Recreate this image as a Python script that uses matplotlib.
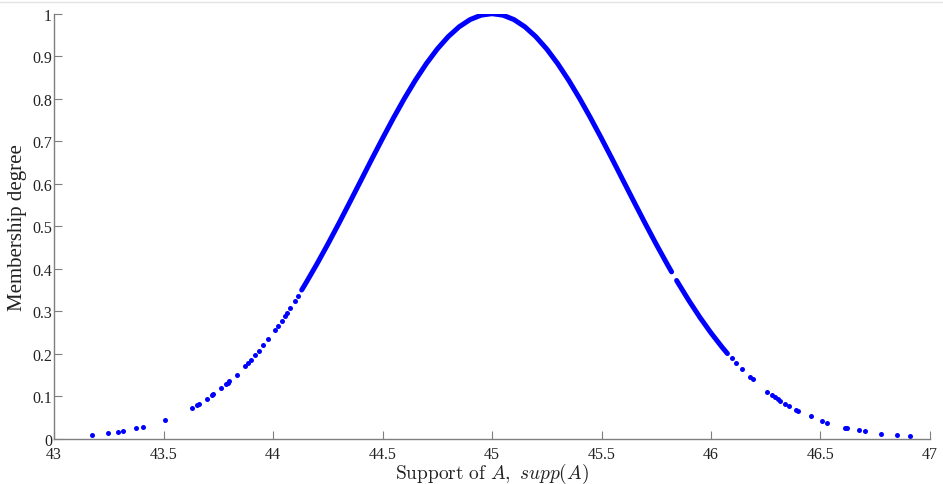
import numpy as np
import matplotlib
matplotlib.use("Agg")
import matplotlib.pyplot as plt
from matplotlib.lines import Line2D

plt.rcParams['mathtext.fontset'] = 'cm'

# Continuous (dense) part of the sampled membership curve, NaN marks a visible gap
dense_x = [44.131, 44.15, 44.20, 44.25, 44.30, 44.35, 44.40, 44.45, 44.50, 44.55,
           44.60, 44.65, 44.70, 44.75, 44.80, 44.85, 44.90, 44.95, 45.00, 45.05,
           45.10, 45.15, 45.20, 45.25, 45.30, 45.35, 45.40, 45.45, 45.50, 45.55,
           45.60, 45.65, 45.70, 45.75, 45.80, 45.82, np.nan,
           45.843, 45.85, 45.90, 45.95, 46.00, 46.05, 46.075]
dense_y = [0.3503, 0.3666, 0.4111, 0.4578, 0.5063, 0.5561, 0.6065, 0.6570, 0.7066, 0.7548,
           0.8007, 0.8435, 0.8825, 0.9169, 0.9460, 0.9692, 0.9862, 0.9965, 1.0000, 0.9965,
           0.9862, 0.9692, 0.9460, 0.9169, 0.8825, 0.8435, 0.8007, 0.7548, 0.7066, 0.6570,
           0.6065, 0.5561, 0.5063, 0.4578, 0.4111, 0.3930, np.nan,
           0.3727, 0.3666, 0.3247, 0.2855, 0.2494, 0.2163, 0.2009]

# Isolated sample points in the tails
sparse_x = [43.175, 43.247, 43.292, 43.315, 43.376, 43.406, 43.507, 43.629, 43.652, 43.662,
            43.697, 43.720, 43.727, 43.763, 43.784, 43.793, 43.800, 43.834, 43.872, 43.887,
            43.898, 43.918, 43.936, 43.956, 43.979, 44.009, 44.024, 44.040, 44.055, 44.063,
            44.078, 44.100, 44.115,
            46.094, 46.114, 46.140, 46.178, 46.190, 46.257, 46.280, 46.292, 46.304, 46.316,
            46.339, 46.356, 46.390, 46.397, 46.455, 46.507, 46.530, 46.613, 46.622, 46.676,
            46.702, 46.775, 46.851, 46.909]
sparse_y = [0.0098, 0.0140, 0.0174, 0.0194, 0.0257, 0.0293, 0.0452, 0.0735, 0.0802, 0.0832,
            0.0946, 0.1028, 0.1054, 0.1194, 0.1282, 0.1322, 0.1353, 0.1513, 0.1708, 0.1790,
            0.1851, 0.1967, 0.2076, 0.2201, 0.2351, 0.2556, 0.2663, 0.2780, 0.2893, 0.2954,
            0.3071, 0.3247, 0.3370,
            0.1897, 0.1784, 0.1645, 0.1456, 0.1399, 0.1114, 0.1028, 0.0985, 0.0943, 0.0902,
            0.0829, 0.0778, 0.0683, 0.0665, 0.0529, 0.0427, 0.0387, 0.0270, 0.0259, 0.0202,
            0.0179, 0.0126, 0.0086, 0.0063]

x_ticks = [43, 43.5, 44, 44.5, 45, 45.5, 46, 46.5, 47]
x_tick_labels = ["43", "43.5", "44", "44.5", "45", "45.5", "46", "46.5", "47"]
y_ticks = [0, 0.1, 0.2, 0.3, 0.4, 0.5, 0.6, 0.7, 0.8, 0.9, 1]
y_tick_labels = ["0", "0.1", "0.2", "0.3", "0.4", "0.5", "0.6", "0.7", "0.8", "0.9", "1"]

fig = plt.figure(figsize=(9.43, 4.85), dpi=100)
ax = fig.add_axes([0.0573, 0.0928, 0.9289, 0.8769])

blue = (0, 0, 1)
ax.plot(dense_x, dense_y, color=blue, lw=3.6, solid_capstyle='round')
ax.plot(sparse_x, sparse_y, 'o', color=blue, ms=3.6, mew=0)

ax.set_xlim(43, 47)
ax.set_ylim(0, 1)
ax.set_xticks(x_ticks)
ax.set_xticklabels(x_tick_labels)
ax.set_yticks(y_ticks)
ax.set_yticklabels(y_tick_labels)

for s in ['top', 'right']:
    ax.spines[s].set_visible(False)
for s in ['left', 'bottom']:
    ax.spines[s].set_color('#7f7f7f')
    ax.spines[s].set_linewidth(1.0)

ax.tick_params(direction='in', length=6, width=0.8, color='#7f7f7f', labelcolor='#222222',
               labelsize=11.5)
ax.tick_params(axis='x', pad=5.0)
ax.tick_params(axis='y', pad=1.5)
for lab in ax.get_xticklabels() + ax.get_yticklabels():
    lab.set_fontfamily('Liberation Serif')
ax.get_yticklabels()[0].set_verticalalignment('center_baseline')

ax.set_ylabel("Membership degree", fontfamily='Liberation Serif', fontsize=15,
              color='#222222', labelpad=4)
ax.set_xlabel(r"$\mathrm{Support\ of\ }A,\ supp(A)$", fontsize=14, color='#222222',
              labelpad=-0.5)

fig.add_artist(Line2D([0, 1], [0.994, 0.994], transform=fig.transFigure,
                      color='#e4e4e4', lw=1.0))

fig.savefig("out.png", dpi=100)
